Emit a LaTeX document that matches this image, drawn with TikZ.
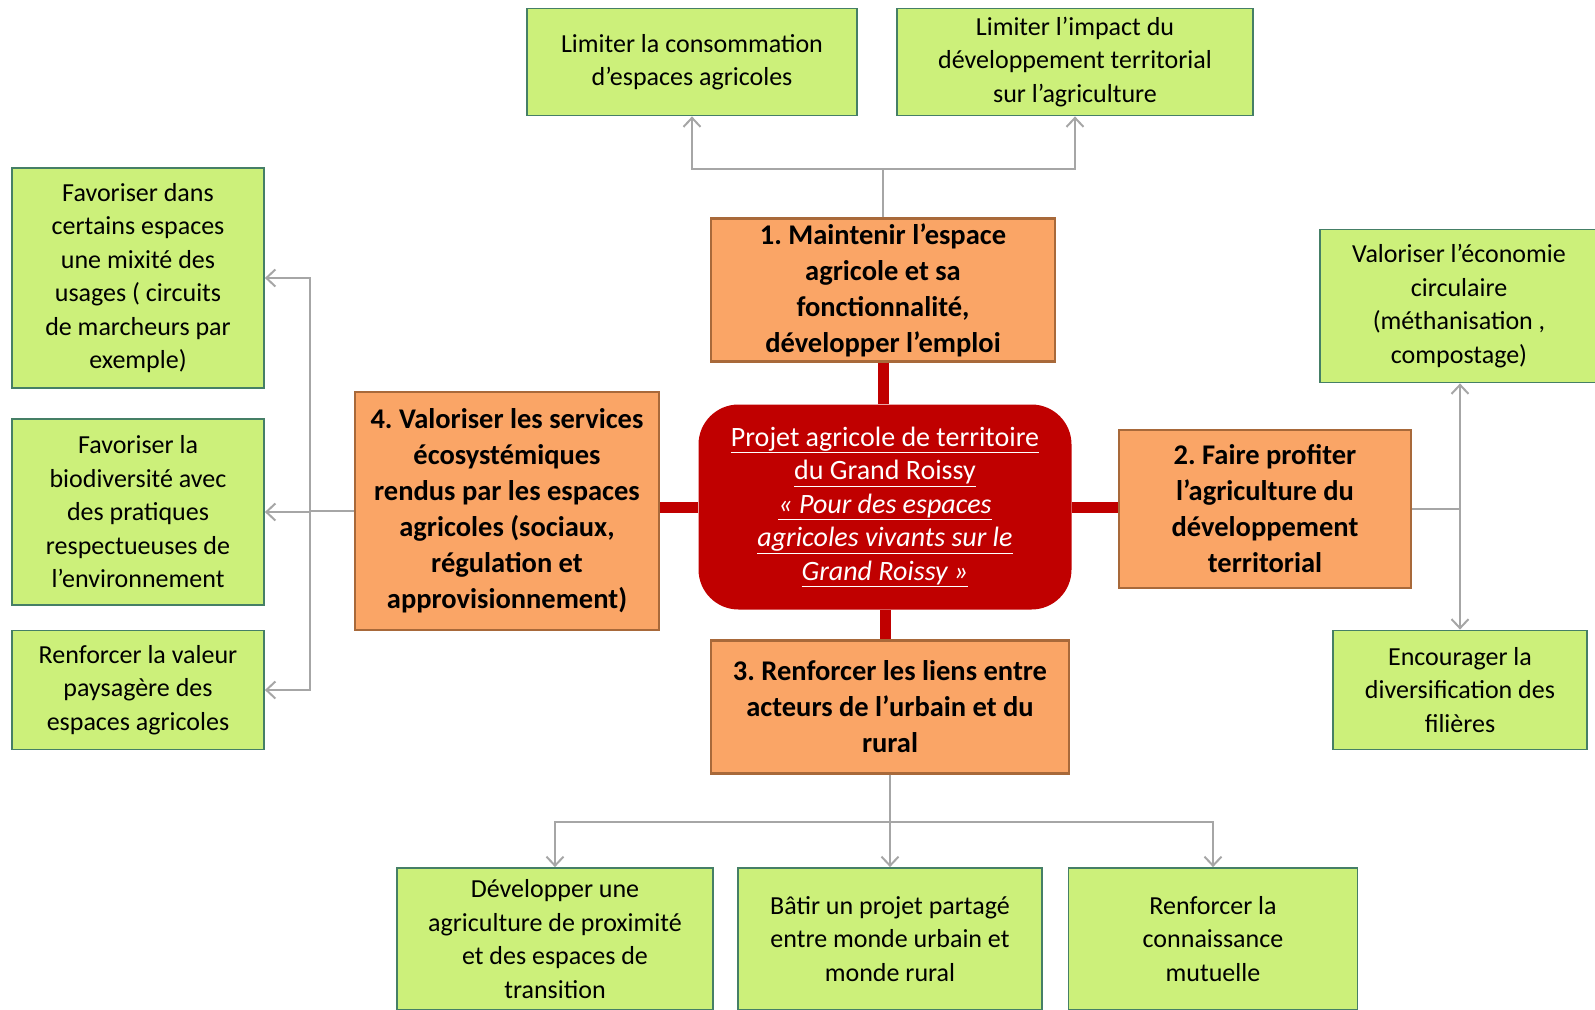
\documentclass[tikz,border=0pt]{standalone}
\usepackage{fontspec}
\setmainfont{Carlito}
\usepackage{tikz}
\usetikzlibrary{arrows.meta}
\definecolor{leaf}{HTML}{CCF07A}
\definecolor{leafline}{HTML}{457F66}
\definecolor{peach}{HTML}{FAA566}
\definecolor{peachline}{HTML}{A8693A}
\definecolor{wine}{HTML}{C00000}
\definecolor{wire}{HTML}{A6A6A6}
\frenchspacing

\begin{document}
\begin{tikzpicture}[x=1pt, y=-1pt,
  leafbox/.style={draw=leafline, line width=1.8pt, fill=leaf, align=center, inner sep=0pt,
    font=\fontsize{26}{33.5}\selectfont},
  axebox/.style={draw=peachline, line width=2.4pt, fill=peach, align=center, inner sep=0pt,
    font=\bfseries\fontsize{28.5}{36}\selectfont},
  hub/.style={fill=wine, rounded corners=40pt, text=white, align=center, inner sep=0pt,
    font=\fontsize{28}{33.5}\selectfont},
  link/.style={wine, line width=11pt},
  branch/.style={wire, line width=2pt, -{Straight Barb[length=9pt,width=17pt,line width=2pt]}}]
  \useasboundingbox (0,0) rectangle (1595,1009);

  % centre et axes
  \node[hub, minimum width=373, minimum height=205] (hub) at (885,507)
    {\underline{Projet agricole de territoire}\\ \underline{du Grand Roissy}\\
     \textit{\underline{« Pour des espaces}}\\ \textit{\underline{agricoles vivants sur le}}\\
     \textit{\underline{Grand Roissy »}}};
  \node[axebox, minimum width=344, minimum height=143] (m1) at (883,290)
    {1. Maintenir l'espace\\ agricole et sa\\ fonctionnalité,\\ développer l'emploi};
  \node[axebox, minimum width=292, minimum height=158] (m2) at (1265,509)
    {2. Faire profiter\\ l’agriculture du\\ développement\\ territorial};
  \node[axebox, minimum width=358, minimum height=133] (m3) at (890,707)
    {3. Renforcer les liens entre\\ acteurs de l’urbain et du\\ rural};
  \node[axebox, minimum width=304, minimum height=238] (m4) at (507,511)
    {4. Valoriser les services\\ écosystémiques\\ rendus par les espaces\\ agricoles (sociaux,\\ régulation et\\ approvisionnement)};

  % objectifs
  \node[leafbox, minimum width=330, minimum height=107] (topA) at (692,62)
    {Limiter la consommation\\ d’espaces agricoles};
  \node[leafbox, minimum width=356, minimum height=107] (topB) at (1075,62)
    {Limiter l’impact du\\ développement territorial\\ sur l’agriculture};
  \node[leafbox, minimum width=252, minimum height=220] (l1) at (138,278)
    {Favoriser dans\\ certains espaces\\ une mixité des\\ usages ( circuits\\ de marcheurs par\\ exemple)};
  \node[leafbox, minimum width=252, minimum height=186] (l2) at (138,512)
    {Favoriser la\\ biodiversité avec\\ des pratiques\\ respectueuses de\\ l’environnement};
  \node[leafbox, minimum width=252, minimum height=119] (l3) at (138,690)
    {Renforcer la valeur\\ paysagère des\\ espaces agricoles};
  \node[leafbox, minimum width=278, minimum height=153] (r1) at (1459,306)
    {Valoriser l’économie\\ circulaire\\ (méthanisation ,\\ compostage)};
  \node[leafbox, minimum width=254, minimum height=119] (r2) at (1460,690)
    {Encourager la\\ diversification des\\ filières};
  \node[leafbox, minimum width=316, minimum height=142] (b1) at (555,939)
    {Développer une\\ agriculture de proximité\\ et des espaces de\\ transition};
  \node[leafbox, minimum width=304, minimum height=142] (b2) at (890,939)
    {Bâtir un projet partagé\\ entre monde urbain et\\ monde rural};
  \node[leafbox, minimum width=289, minimum height=142] (b3) at (1213,939)
    {Renforcer la\\ connaissance\\ mutuelle};

  % liens rouges
  \draw[link] (m1.south) -- (m1.south |- hub.north);
  \draw[link] (hub.south) -- (hub.south |- m3.north);
  \draw[link] (hub.east) -- (hub.east -| m2.west);
  \draw[link] (hub.west) -- (hub.west -| m4.east);

  % fleches
  \coordinate (j1) at (883,169);
  \coordinate (j2) at (1460,509);
  \coordinate (j3) at (890,822);
  \coordinate (j4) at (310,511);
  \draw[branch] (m1.north) -- (j1) -| (topA.south);
  \draw[branch] (m1.north) -- (j1) -| (topB.south);
  \draw[branch] (m4.west) -- (j4) |- (l1.east);
  \draw[branch] (m4.west) -- (j4) |- (l2.east);
  \draw[branch] (m4.west) -- (j4) |- (l3.east);
  \draw[branch] (m2.east) -- (j2) -- (j2 |- r1.south);
  \draw[branch] (m2.east) -- (j2) -- (j2 |- r2.north);
  \draw[branch] (m3.south) -- (j3) -| (b1.north);
  \draw[branch] (m3.south) -- (j3) -| (b2.north);
  \draw[branch] (m3.south) -- (j3) -| (b3.north);
\end{tikzpicture}
\end{document}
